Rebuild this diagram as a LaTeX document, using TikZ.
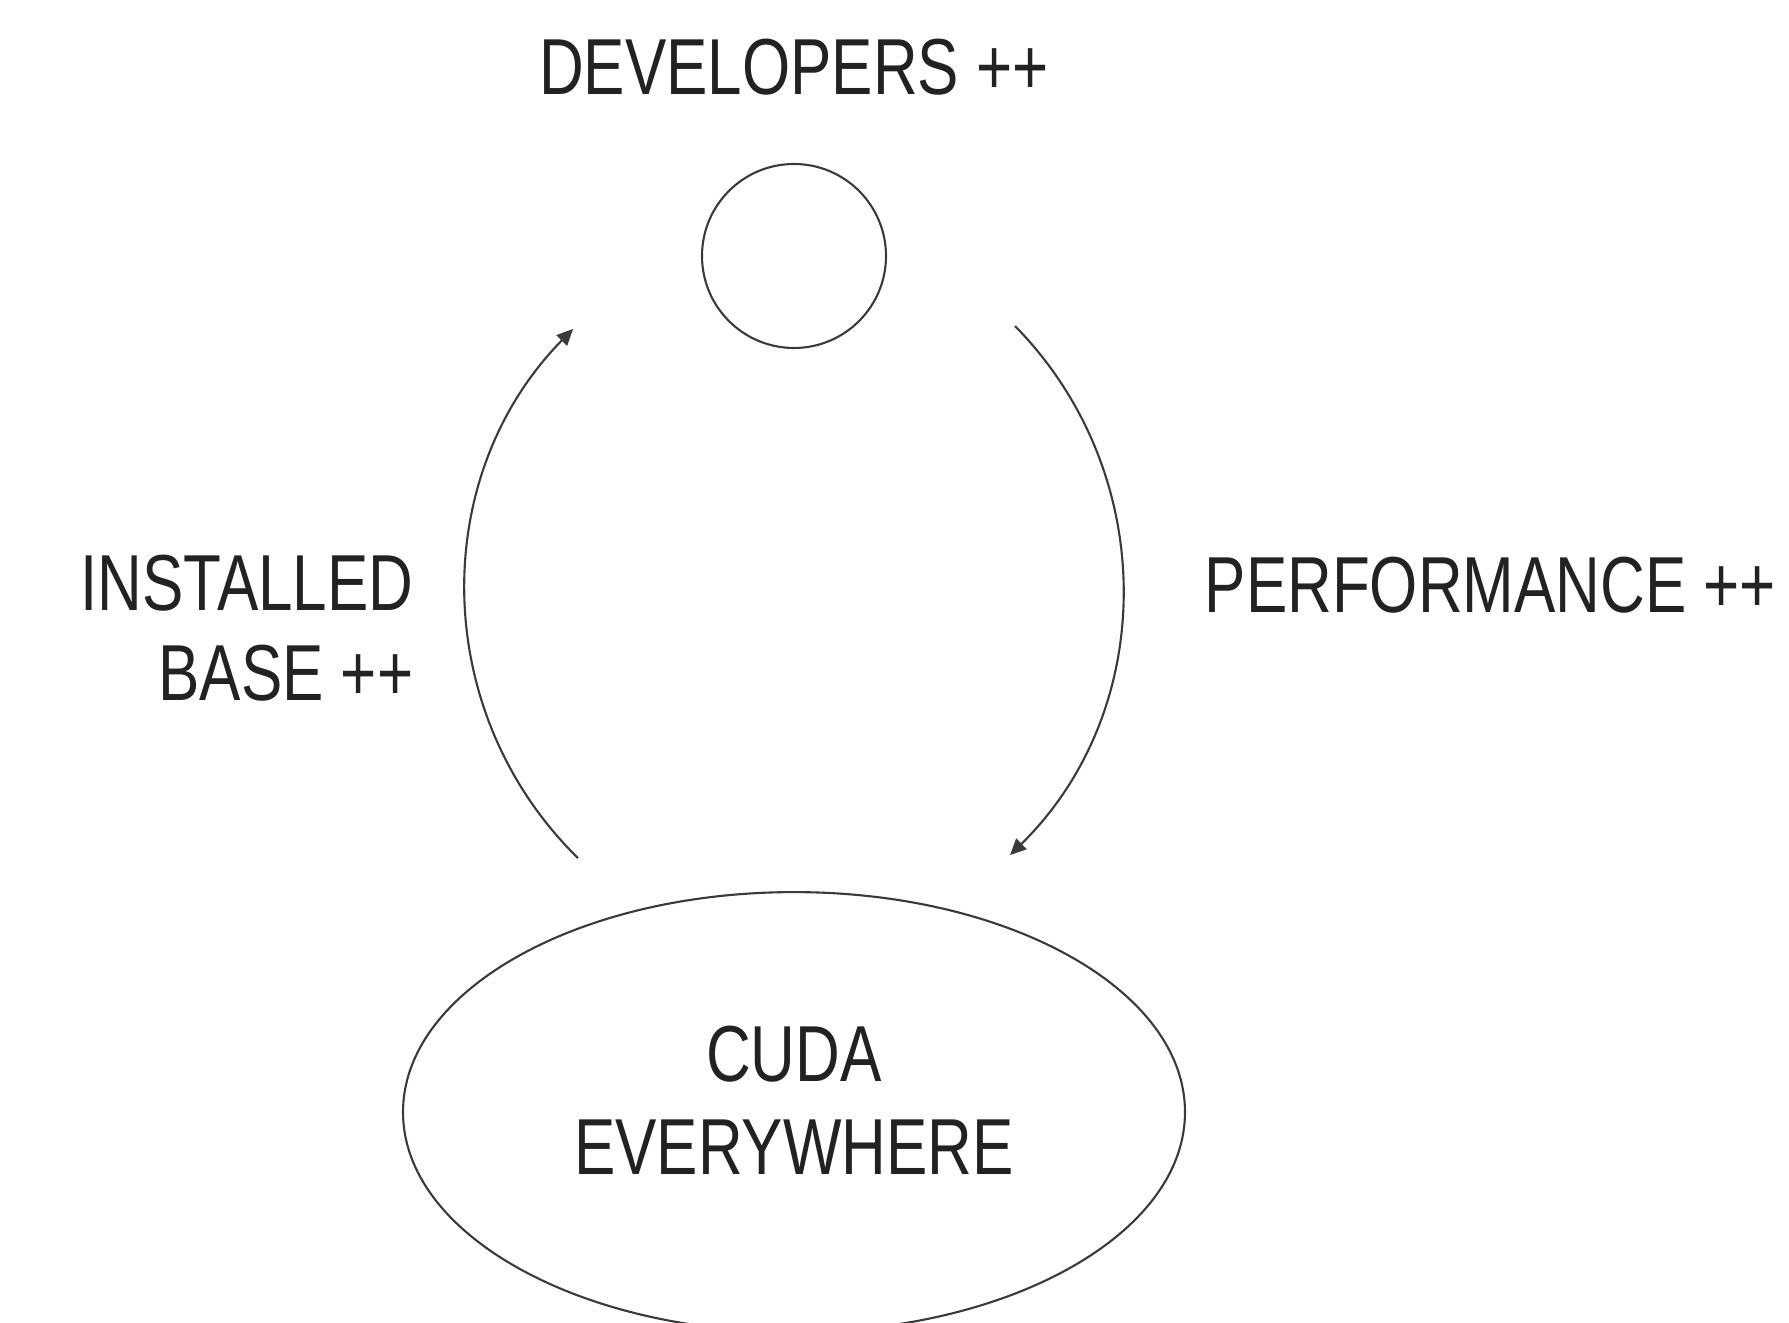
\documentclass[tikz,border=0pt]{standalone}
\usepackage{fontspec}
\setmainfont[FakeStretch=0.78]{Liberation Sans}
\usepackage{tikz}
\usetikzlibrary{arrows.meta, positioning, shapes, calc}

\definecolor{inkgray}{HTML}{222222}
\definecolor{linegray}{HTML}{3A3A3A}

\begin{document}
\begin{tikzpicture}[node distance=2cm, auto,
    label/.style={inner sep=0pt, text=inkgray, font=\fontsize{22.6}{25.5}\selectfont},
    cycle/.style={-{Triangle[length=4.6pt, width=4.2pt]}, draw=linegray, line width=0.6pt}]
    \useasboundingbox (0,0) rectangle (17.89,-13.23);

    \node[circle, draw=linegray, line width=0.6pt, minimum size=1.84cm] (dev) at (7.94,-2.56) {};
    \node[label, above=0.67cm of dev] (devtext) {DEVELOPERS ++};

    \node[ellipse, draw=linegray, line width=0.6pt, minimum width=7.82cm, minimum height=4.4cm,
          below=5.42cm of dev, label, align=center, text depth=0.24cm] (cuda) {CUDA\\[1pt]EVERYWHERE};

    \node[label, anchor=west] (perf) at (12.04,-5.85) {PERFORMANCE ++};
    \node[label, anchor=east, align=right] (base) at (4.14,-6.28) {INSTALLED\\BASE ++};

    \coordinate (perfstart) at ($(dev.center)+(2.21,-0.70)$);
    \coordinate (perfend) at ($(cuda.center)+(2.16,2.57)$);
    \coordinate (basestart) at ($(cuda.center)+(-2.16,2.54)$);
    \coordinate (baseend) at ($(dev.center)+(-2.21,-0.73)$);

    \draw[cycle] (perfstart) to[bend left=45] (perfend);
    \draw[cycle] (basestart) to[bend left=45] (baseend);
\end{tikzpicture}
\end{document}
